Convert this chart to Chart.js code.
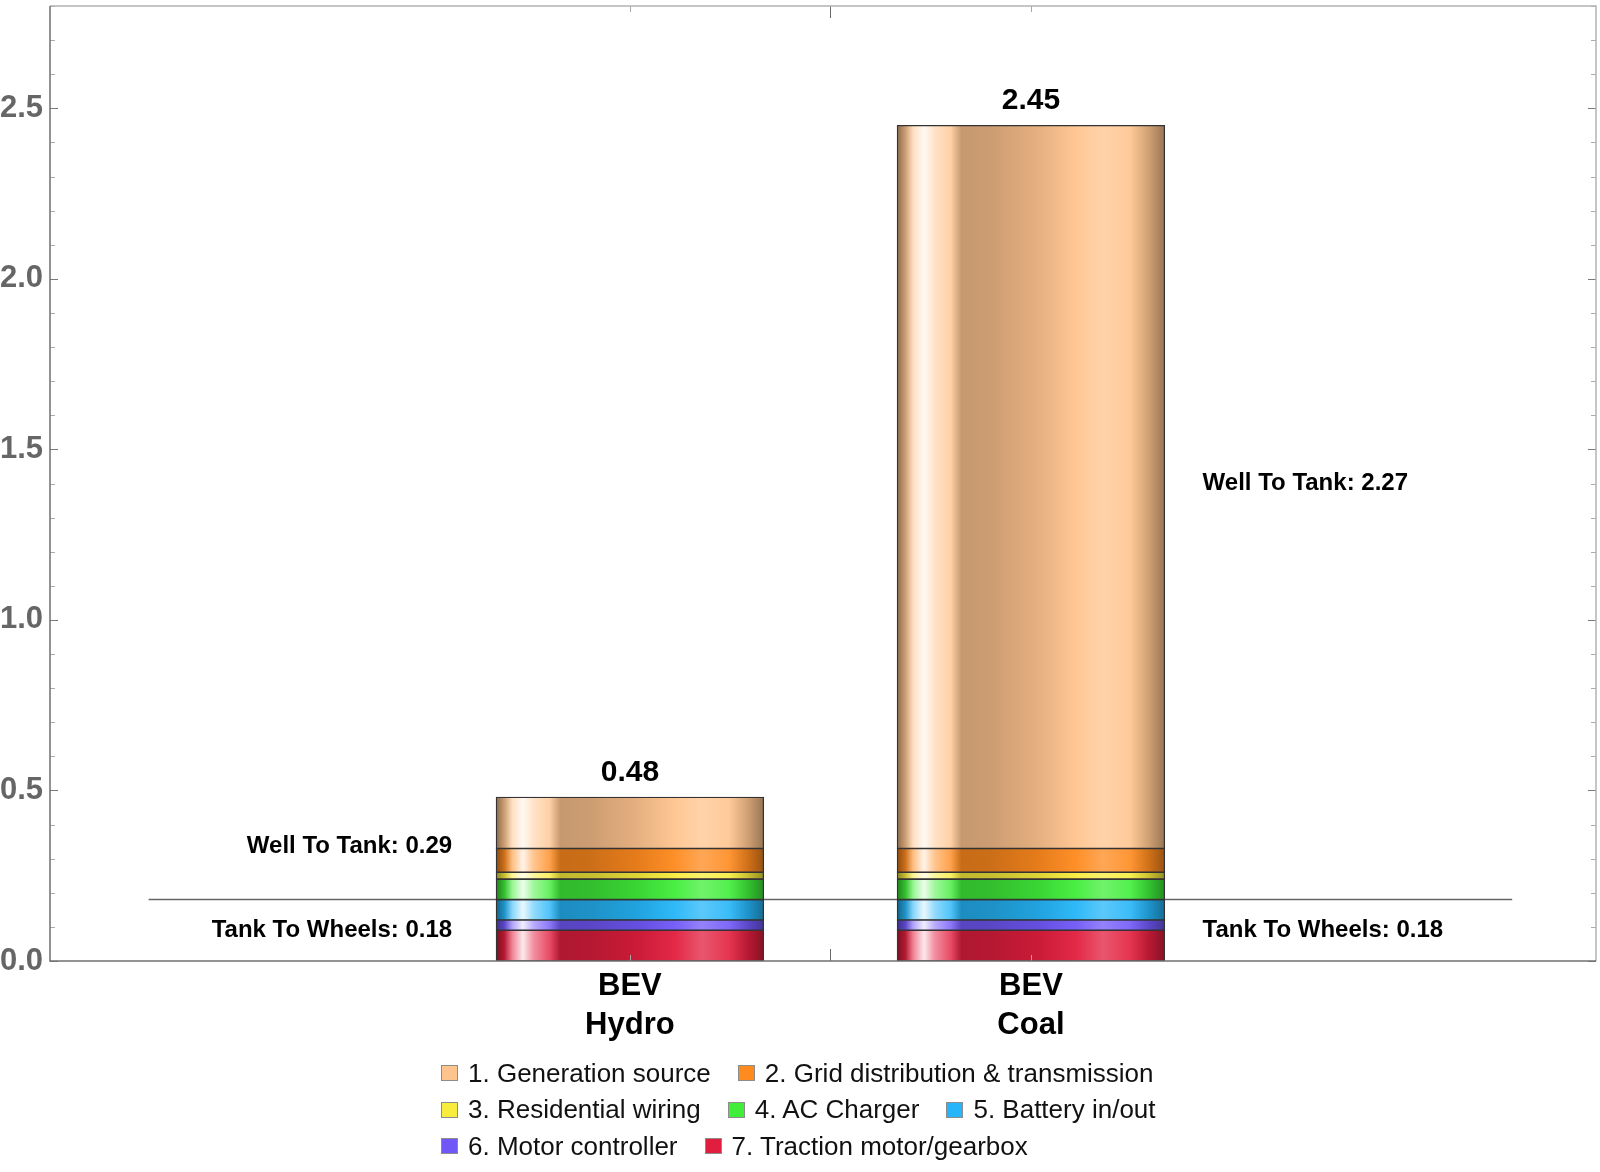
<!DOCTYPE html>
<html>
<head>
<meta charset="utf-8">
<script src="https://cdn.jsdelivr.net/npm/chart.js@4.4.1/dist/chart.umd.min.js"></script>
<style>
  body { margin: 0; background: #fff; }
  #wrap { position: relative; width: 1600px; height: 1172px; }
  #legend {
    position: absolute; left: 441px; top: 1055px; width: 740px;
    display: flex; flex-wrap: wrap; column-gap: 27px;
    font-family: "Liberation Sans", Arial, sans-serif; font-size: 26px; color: #111;
  }
  #legend .item { display: flex; align-items: center; height: 36.5px; }
  #legend .box { width: 17px; height: 16px; box-sizing: border-box; border: 1px solid #8c8c8c; margin-right: 10px; }
</style>
</head>
<body>
<div id="wrap">
  <canvas id="chart" width="1600" height="1172"></canvas>
  <div id="legend"></div>
</div>
<script>
// categories (bar positions 1, 2 on the x axis)
const categories = [['BEV', 'Hydro'], ['BEV', 'Coal']];

// loss components, legend order
const components = [
  '1. Generation source',
  '2. Grid distribution & transmission',
  '3. Residential wiring',
  '4. AC Charger',
  '5. Battery in/out',
  '6. Motor controller',
  '7. Traction motor/gearbox'
];
const componentColors = ['#FFC48E', '#FF8A1E', '#F8EC3C', '#40EE3A', '#25B5F8', '#7058F8', '#E21E3E'];

// values per component (Hydro, Coal)
const generation = [0.15, 2.12];
const gridLoss = [0.07, 0.07];
const wiring = [0.02, 0.02];
const charger = [0.06, 0.06];
const battery = [0.06, 0.06];
const controller = [0.03, 0.03];
const traction = [0.09, 0.09];
const series = [generation, gridLoss, wiring, charger, battery, controller, traction];

// summary annotations
const wellToTank = [0.29, 2.27];
const tankToWheels = [0.18, 0.18];

const FONT = '"Liberation Sans", Arial, Helvetica, sans-serif';
const BAR_FRAC = 2 / 3;
const wttLabelAt = [0.335, 1.40]; // vertical placement of the well-to-tank notes

function hexRgb(h) {
  const n = parseInt(h.slice(1), 16);
  return [(n >> 16) & 255, (n >> 8) & 255, n & 255];
}
function shade(rgb, f) {
  const c = f < 0 ? rgb.map(v => v * (1 + f)) : rgb.map(v => v + (255 - v) * f);
  return 'rgb(' + c.map(v => Math.round(v)).join(',') + ')';
}
// cylinder-like shading across a bar
const SHADING = [[0, -0.45], [0.03, -0.2], [0.06, 0.45], [0.10, 0.9], [0.14, 0.5], [0.20, 0.2],
  [0.24, -0.22], [0.35, -0.2], [0.53, -0.1], [0.67, 0.05], [0.77, 0.25], [0.87, 0.1], [0.94, -0.18], [1, -0.4]];

function barHalf(xs) {
  return (xs.getPixelForValue(1) - xs.getPixelForValue(0)) * BAR_FRAC / 2;
}

function barFill(base) {
  const rgb = hexRgb(base);
  return function (c) {
    const chart = c.chart;
    if (!chart.chartArea || c.type !== 'data') return base;
    const xs = chart.scales.x;
    const cx = xs.getPixelForValue(c.dataIndex + 1);
    const h = barHalf(xs);
    const g = chart.ctx.createLinearGradient(cx - h, 0, cx + h, 0);
    SHADING.forEach(([p, f]) => g.addColorStop(p, shade(rgb, f)));
    return g;
  };
}

// stacked bottom-up: traction first
const datasets = [];
for (let k = series.length - 1; k >= 0; k--) {
  datasets.push({
    type: 'bar',
    label: components[k],
    data: series[k].map((v, i) => ({ x: i + 1, y: v })),
    backgroundColor: barFill(componentColors[k]),
    borderColor: '#333',
    borderWidth: 1.3,
    borderSkipped: false,
    inflateAmount: 0.5,
    categoryPercentage: 1,
    barPercentage: BAR_FRAC
  });
}
datasets.push({
  type: 'line',
  label: 'Tank To Wheels',
  data: [{ x: 1 - 1.2, y: tankToWheels[0] }, { x: categories.length + 1.2, y: tankToWheels[0] }],
  borderColor: '#666',
  borderWidth: 1.5,
  pointRadius: 0,
  order: 5
});

const framePlugin = {
  id: 'frame',
  afterDatasetsDraw(chart) {
    const { ctx, chartArea: a, scales: { x, y } } = chart;
    ctx.save();
    ctx.lineWidth = 1;
    // y ticks, inward on both sides
    for (let i = 0; i <= Math.round(y.max * 10); i++) {
      const py = Math.round(y.getPixelForValue(i / 10)) + 0.5;
      const major = i % 5 === 0;
      const len = major ? 8 : 5;
      ctx.strokeStyle = major ? '#7a7a7a' : '#ababab';
      ctx.beginPath();
      ctx.moveTo(a.left, py); ctx.lineTo(a.left + len, py);
      ctx.moveTo(a.right, py); ctx.lineTo(a.right - len, py);
      ctx.stroke();
    }
    // x ticks
    [1, 1.5, 2].forEach(v => {
      const px = Math.round(x.getPixelForValue(v)) + 0.5;
      const major = v === 1.5;
      const len = major ? 12 : 6;
      ctx.strokeStyle = major ? '#6a6a6a' : '#a8a8a8';
      ctx.beginPath();
      ctx.moveTo(px, a.top); ctx.lineTo(px, a.top + len);
      ctx.moveTo(px, a.bottom); ctx.lineTo(px, a.bottom - len);
      ctx.stroke();
    });
    // frame
    ctx.lineWidth = 1.5;
    ctx.strokeStyle = '#b3b3b3';
    ctx.beginPath();
    ctx.moveTo(a.left, a.top); ctx.lineTo(a.right, a.top); ctx.lineTo(a.right, a.bottom);
    ctx.stroke();
    ctx.strokeStyle = '#707070';
    ctx.beginPath();
    ctx.moveTo(a.left, a.top); ctx.lineTo(a.left, a.bottom); ctx.lineTo(a.right, a.bottom);
    ctx.stroke();

    // totals and well-to-tank / tank-to-wheels notes
    const h = barHalf(x);
    ctx.fillStyle = '#000';
    categories.forEach((c, i) => {
      const cx = x.getPixelForValue(i + 1);
      const total = series.reduce((s, arr) => s + arr[i], 0);
      ctx.font = 'bold 30px ' + FONT;
      ctx.textAlign = 'center';
      ctx.textBaseline = 'alphabetic';
      ctx.fillText(total.toFixed(2), cx, y.getPixelForValue(total) - 16);

      const leftSide = i === 0;
      const tx = leftSide ? cx - h - 44 : cx + h + 38;
      ctx.textAlign = leftSide ? 'right' : 'left';
      ctx.textBaseline = 'middle';
      ctx.font = 'bold 24px ' + FONT;
      ctx.fillText('Well To Tank: ' + wellToTank[i].toFixed(2), tx, y.getPixelForValue(wttLabelAt[i]));
      ctx.fillText('Tank To Wheels: ' + tankToWheels[i].toFixed(2), tx, y.getPixelForValue(tankToWheels[i] / 2));
    });
    ctx.restore();
  }
};

new Chart(document.getElementById('chart').getContext('2d'), {
  data: { datasets: datasets },
  options: {
    responsive: false,
    devicePixelRatio: 1,
    animation: false,
    layout: { padding: { top: 6, right: 4, left: 0, bottom: 0 } },
    plugins: { legend: { display: false }, tooltip: { enabled: false } },
    scales: {
      x: {
        type: 'linear',
        stacked: true,
        offset: false,
        bounds: 'data',
        min: -0.446,
        max: 3.409,
        grid: { display: false, drawTicks: false, offset: false },
        border: { display: false },
        afterBuildTicks: s => { s.ticks = categories.map((c, i) => ({ value: i + 1 })); },
        afterFit: s => { s.height = 211; s.paddingLeft = 0; s.paddingRight = 0; },
        ticks: {
          autoSkip: false,
          maxRotation: 0,
          padding: 6,
          color: '#000',
          font: { family: FONT, size: 31, weight: 'bold', lineHeight: 1.25 },
          callback: v => categories[Math.round(v) - 1]
        }
      },
      y: {
        stacked: true,
        min: 0,
        max: 2.8,
        grid: { display: false, drawTicks: false },
        border: { display: false },
        afterFit: s => { s.width = 50; s.paddingTop = 0; s.paddingBottom = 0; },
        ticks: {
          stepSize: 0.5,
          includeBounds: false,
          padding: 7,
          color: '#666',
          font: { family: FONT, size: 31, weight: 'bold' },
          callback: v => v.toFixed(1)
        }
      }
    }
  },
  plugins: [framePlugin]
});

// legend in the order of the components
const legend = document.getElementById('legend');
components.forEach((name, k) => {
  const item = document.createElement('div');
  item.className = 'item';
  const box = document.createElement('span');
  box.className = 'box';
  box.style.background = componentColors[k];
  const label = document.createElement('span');
  label.textContent = name;
  item.appendChild(box);
  item.appendChild(label);
  legend.appendChild(item);
});
</script>
</body>
</html>
